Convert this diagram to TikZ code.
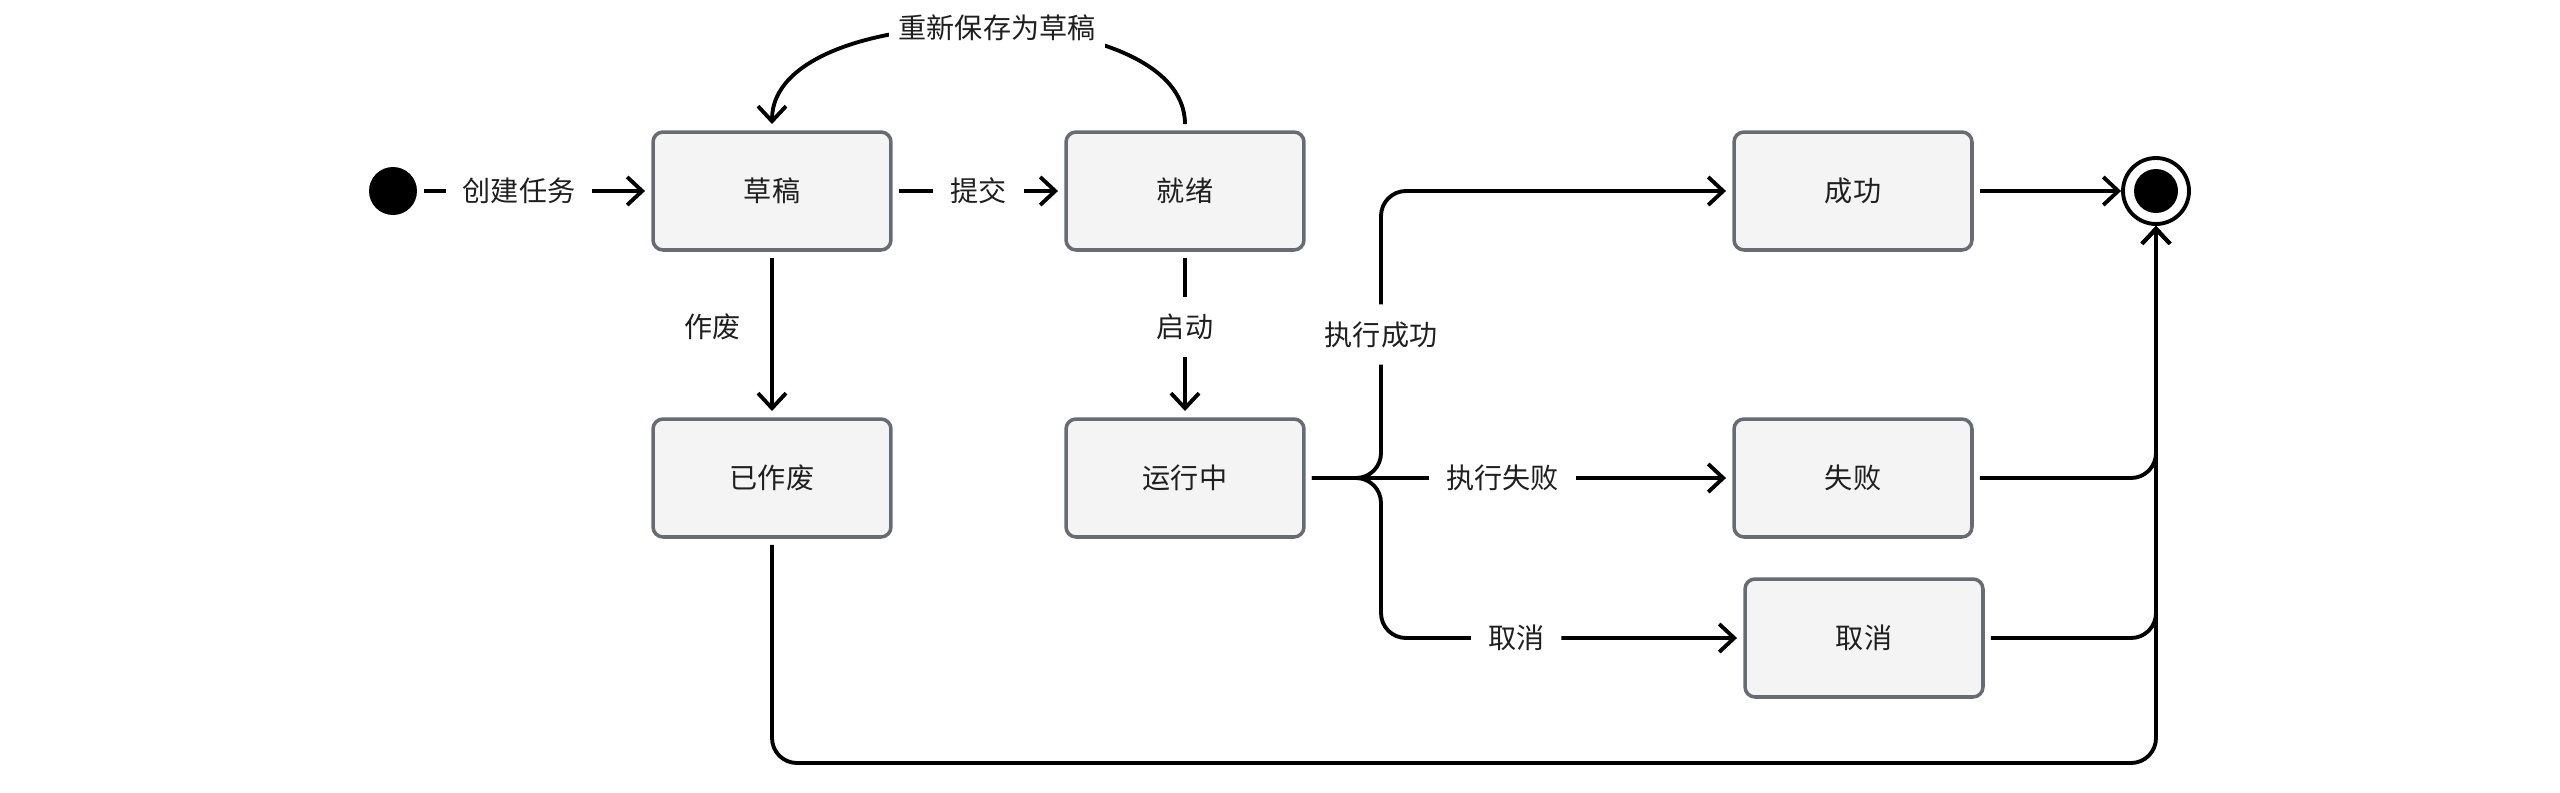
\documentclass[tikz,border=0pt]{standalone}
\usepackage{fontspec}
\setmainfont{Noto Sans CJK SC}
\usetikzlibrary{arrows.meta}

\definecolor{boxgray}{HTML}{676C74}
\definecolor{boxfill}{HTML}{F4F4F4}
\definecolor{textdark}{HTML}{1F1F1F}

\begin{document}
\begin{tikzpicture}[x=0.02cm, y=-0.02cm,
		state/.style={rectangle, rounded corners=0.2cm, draw=boxgray, line width=2pt, fill=boxfill, minimum width=4.76cm, minimum height=2.36cm, outer sep=0.16cm},
		edge/.style={line width=2.2pt, -{Straight Barb[length=0.3cm, width=0.56cm]}},
		lbl/.style={fill=white, inner sep=0.34cm},
		font=\fontsize{16pt}{19pt}\selectfont, text=textdark]
			\useasboundingbox (0,0) rectangle (2560,792);
			\node[circle, fill=black, minimum size=0.96cm, inner sep=0pt, outer sep=0.14cm](init) at (393,191){};
			\node[state](draft) at (772,191){草稿};
			\node[state](ready) at (1185,191){就绪};
			\node[state](void) at (772,478){已作废};
			\node[state](running) at (1185,478){运行中};
			\node[state](success) at (1853,191){成功};
			\node[state](failed) at (1853,478){失败};
			\node[state](cancelled) at (1864,638){取消};
			\node[circle, draw=black, line width=2.2pt, minimum size=1.32cm, inner sep=0pt](final) at (2156,191){};
			\node[circle, fill=black, minimum size=0.88cm, inner sep=0pt](finaldot) at (final){};
			\coordinate (fork) at (1381,478);
			\coordinate (bottom) at (2156,763);
			\draw[edge] (init) -- node[lbl, pos=0.43]{创建任务} (draft);
			\draw[edge] (draft) -- node[lbl]{提交} (ready);
			\draw[edge] (ready.north) to[out=90, in=90, looseness=0.8] node[lbl, inner sep=0.2cm, pos=0.47]{重新保存为草稿} (draft.north);
			\draw[edge] (draft) -- node[left=0.48cm, pos=0.45]{作废} (void);
			\draw[edge] (ready) -- node[lbl, pos=0.45]{启动} (running);
			\draw[edge, rounded corners=0.5cm] (running.east) -- (fork) |- node[lbl, pos=0.25]{执行成功} (success.west);
			\draw[edge] (running.east) -- node[lbl, pos=0.46]{执行失败} (failed.west);
			\draw[edge, rounded corners=0.5cm] (running.east) -- (fork) |- node[lbl, pos=0.69]{取消} (cancelled.west);
			\draw[edge] (success) -- (final);
			\draw[edge, rounded corners=0.5cm] (failed.east) -| (final.south);
			\draw[edge, rounded corners=0.5cm] (cancelled.east) -| (final.south);
			\draw[edge, rounded corners=0.5cm] (void.south) |- (bottom) -- (final.south);
			\end{tikzpicture}
\end{document}
